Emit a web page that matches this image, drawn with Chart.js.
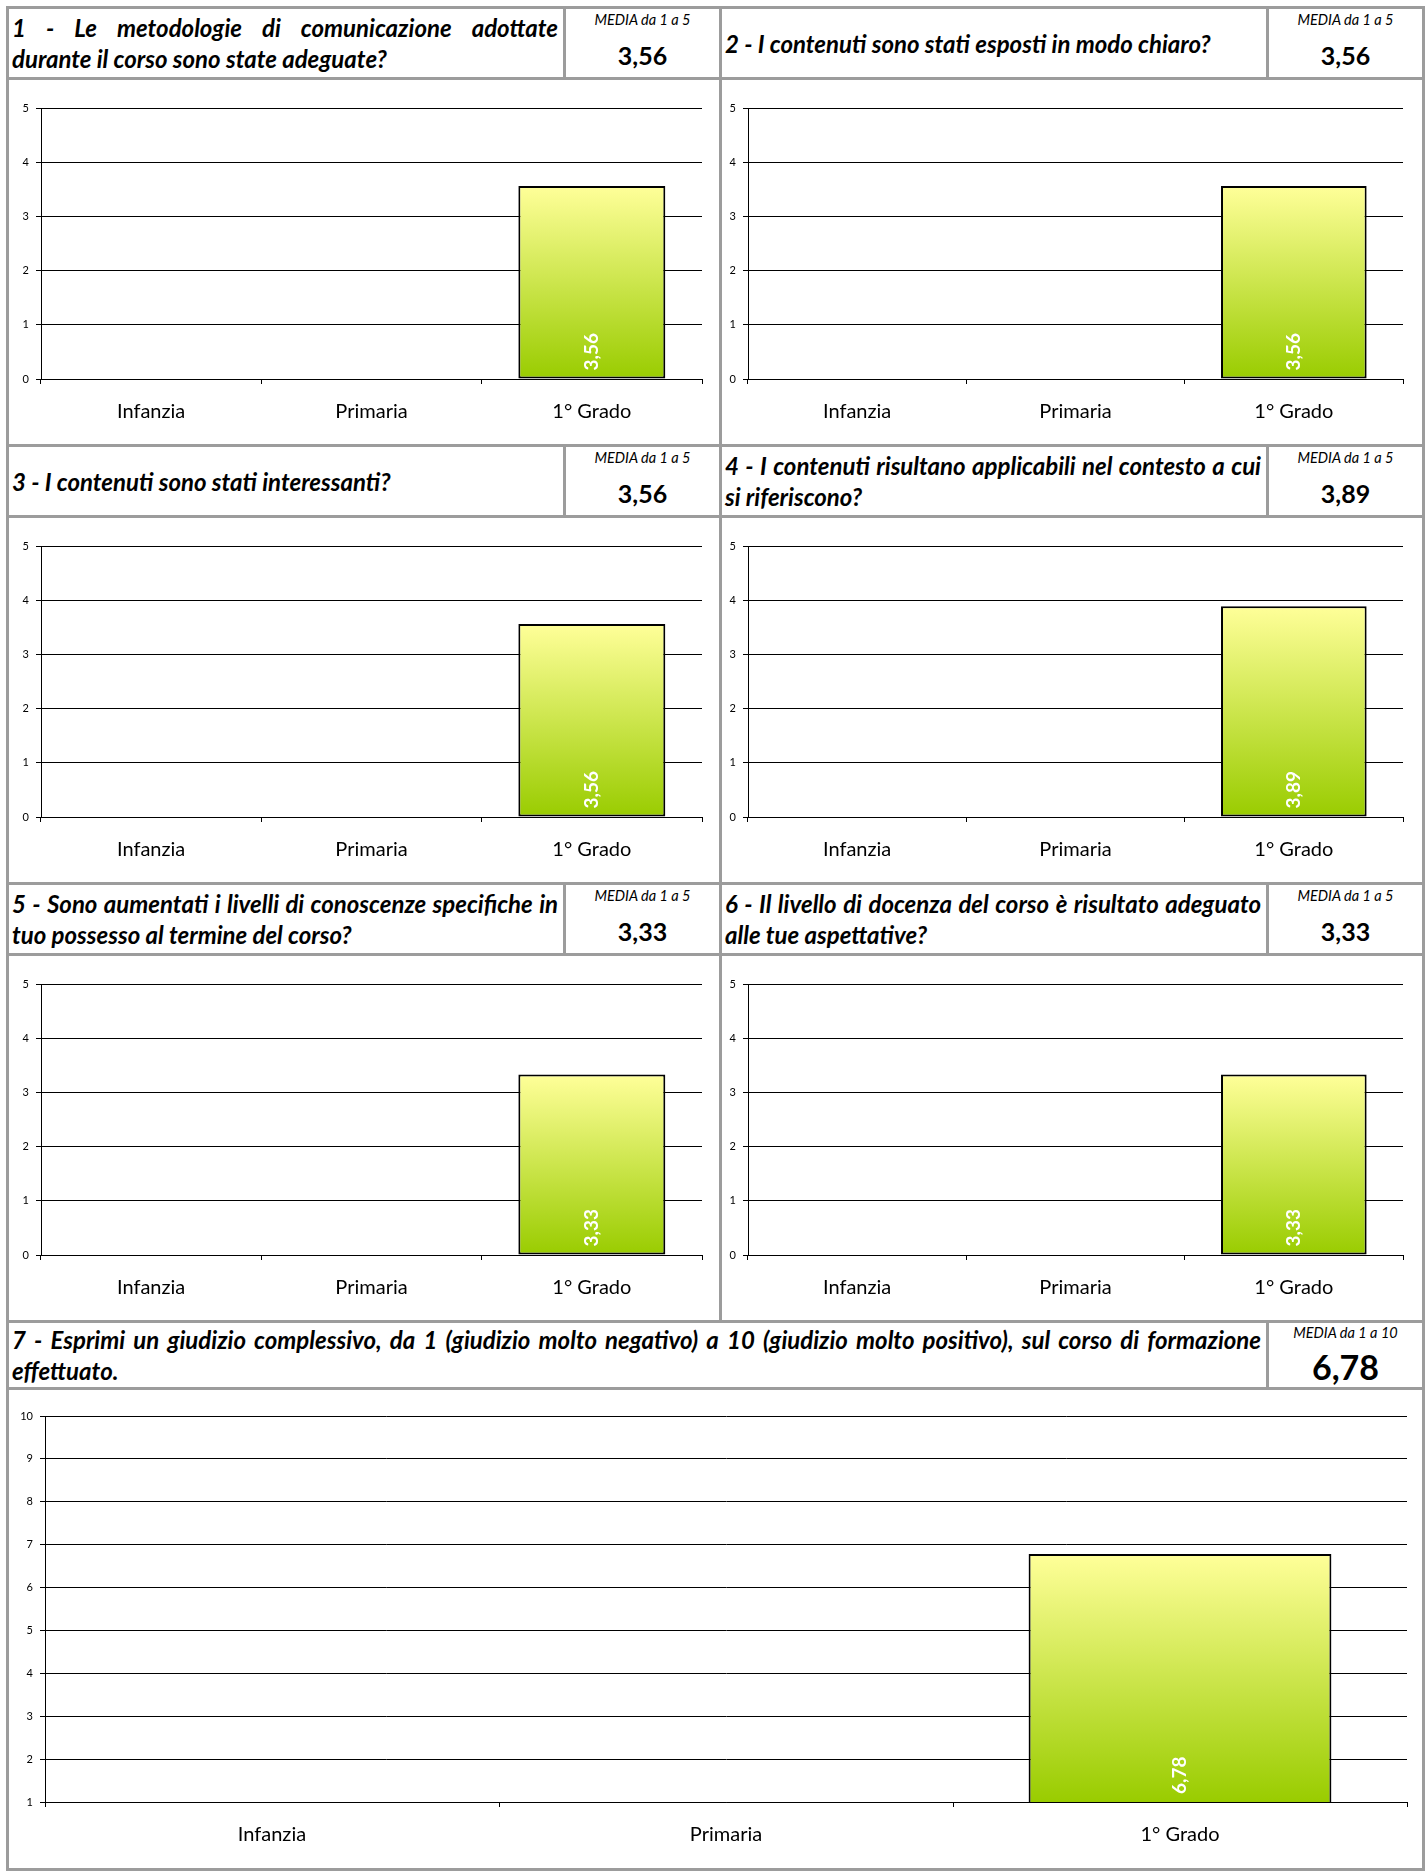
<!DOCTYPE html>
<html lang="it">
<head>
  <meta charset="utf-8">
  <title>Questionario di gradimento - medie</title>
  <script src="https://cdn.jsdelivr.net/npm/chart.js@4/dist/chart.umd.min.js"></script>
  <style>
    body { margin:0; background:#fff; font-family:Lato, "Open Sans", sans-serif; color:#000; width:1426px; height:1871px; position:relative; overflow:hidden; }
    .frame { position:absolute; left:6px; top:6px; width:1419px; height:1865px; background:#9c9c9c; }
    .cell { position:absolute; background:#fff; box-sizing:border-box; }
    .q { display:flex; flex-direction:column; justify-content:center; padding:0 5px 0 3px; font-weight:700; font-style:italic; font-size:24px; line-height:31px; }
    .q .j { text-align:justify; text-align-last:justify; }
    .m .lab { position:absolute; left:0; right:0; text-align:center; font-style:italic; font-size:14.5px; line-height:16px; }
    .m .val { position:absolute; left:0; right:0; text-align:center; font-weight:700; }
    canvas { position:absolute; left:0; top:0; }
  </style>
</head>
<body>
  <div class="frame"></div>

  <script>
    // data
    const categories = ['Infanzia', 'Primaria', '1° Grado'];
    const titles = [
      ['1 - Le metodologie di comunicazione adottate', 'durante il corso sono state adeguate?'],
      ['2 - I contenuti sono stati esposti in modo chiaro?'],
      ['3 - I contenuti sono stati interessanti?'],
      ['4 - I contenuti risultano applicabili nel contesto a cui', 'si riferiscono?'],
      ['5 - Sono aumentati i livelli di conoscenze specifiche in', 'tuo possesso al termine del corso?'],
      ['6 - Il livello di docenza del corso è risultato adeguato', 'alle tue aspettative?'],
      ['7 - Esprimi un giudizio complessivo, da 1 (giudizio molto negativo) a 10 (giudizio molto positivo), sul corso di formazione', 'effettuato.']
    ];
    const mediaLabels = ['MEDIA da 1 a 5', 'MEDIA da 1 a 5', 'MEDIA da 1 a 5', 'MEDIA da 1 a 5', 'MEDIA da 1 a 5', 'MEDIA da 1 a 5', 'MEDIA da 1 a 10'];
    const q1 = [null, null, 3.56];
    const q2 = [null, null, 3.56];
    const q3 = [null, null, 3.56];
    const q4 = [null, null, 3.89];
    const q5 = [null, null, 3.33];
    const q6 = [null, null, 3.33];
    const q7 = [null, null, 6.78];
    const series = [q1, q2, q3, q4, q5, q6, q7];
    const axisMin = [0, 0, 0, 0, 0, 0, 1];
    const axisMax = [5, 5, 5, 5, 5, 5, 10];

    const fmt = v => v.toFixed(2).replace('.', ',');
    const mean = arr => { const a = arr.filter(v => v != null); return a.reduce((s, v) => s + v, 0) / a.length; };

    // layout: centres of the grey rules
    const H = [7, 78, 445, 516, 883, 954, 1321, 1388, 1869];
    const cols = [
      { qx: [9, 563], mx: [566, 719], cx: [9, 719], padL: 32, padR: 17 },
      { qx: [722, 1266], mx: [1269, 1422], cx: [722, 1422], padL: 26, padR: 19 }
    ];
    const wide = { qx: [9, 1266], mx: [1269, 1422], cx: [9, 1422], padL: 36, padR: 15 };

    function cell(cls, x1, y1, x2, y2) {
      const d = document.createElement('div');
      d.className = 'cell ' + cls;
      d.style.left = x1 + 'px'; d.style.top = y1 + 'px';
      d.style.width = (x2 - x1) + 'px'; d.style.height = (y2 - y1) + 'px';
      document.body.appendChild(d);
      return d;
    }

    const valueLabels = {
      id: 'valueLabels',
      afterDatasetsDraw(chart) {
        const ctx = chart.ctx;
        const data = chart.data.datasets[0].data;
        const floor = chart.scales.y.getBasePixel();
        chart.getDatasetMeta(0).data.forEach((bar, j) => {
          if (data[j] == null) return;
          ctx.save();
          ctx.translate(bar.x, Math.min(bar.base, floor) - 8);
          ctx.rotate(-Math.PI / 2);
          ctx.font = 'bold 19px Lato';
          ctx.fillStyle = '#fff';
          ctx.textAlign = 'left';
          ctx.textBaseline = 'middle';
          ctx.fillText(fmt(data[j]), 0, 0);
          ctx.restore();
        });
      }
    };

    function barFill(c) {
      const ch = c.chart;
      if (!ch.chartArea || c.raw == null) return '#cce066';
      const y = ch.scales.y;
      const g = ch.ctx.createLinearGradient(0, y.getPixelForValue(c.raw), 0, y.getBasePixel());
      g.addColorStop(0, '#ffff99');
      g.addColorStop(1, '#99cc00');
      return g;
    }

    series.forEach((vals, i) => {
      const big = i === 6;
      const col = big ? wide : cols[i % 2];
      const row = big ? 3 : Math.floor(i / 2);
      const hy = [H[2 * row] + 2, H[2 * row + 1] - 1];
      const cy = [H[2 * row + 1] + 2, H[2 * row + 2] - 1];

      // question header
      const q = cell('q', col.qx[0], hy[0], col.qx[1], hy[1]);
      titles[i].forEach((t, k) => {
        const line = document.createElement('div');
        if (k < titles[i].length - 1) line.className = 'j';
        line.textContent = t;
        q.appendChild(line);
      });

      // media box
      const m = cell('m', col.mx[0], hy[0], col.mx[1], hy[1]);
      const lab = document.createElement('div');
      lab.className = 'lab'; lab.textContent = mediaLabels[i];
      lab.style.top = (big ? 2 : 3) + 'px';
      const val = document.createElement('div');
      val.className = 'val'; val.textContent = fmt(mean(vals));
      val.style.fontSize = big ? '34px' : '25px';
      val.style.lineHeight = big ? '40px' : '28px';
      val.style.top = (big ? 24 : 32) + 'px';
      m.appendChild(lab); m.appendChild(val);

      // chart
      const c = cell('c', col.cx[0], cy[0], col.cx[1], cy[1]);
      const cv = document.createElement('canvas');
      cv.width = col.cx[1] - col.cx[0];
      cv.height = cy[1] - cy[0];
      c.appendChild(cv);
      const xh = big ? 66 : 65;

      new Chart(cv, {
        type: 'bar',
        data: {
          labels: categories,
          datasets: [{
            data: vals,
            backgroundColor: barFill,
            borderColor: '#000',
            borderWidth: 2,
            borderSkipped: false,
            barPercentage: 0.667,
            categoryPercentage: 1
          }]
        },
        options: {
          responsive: false,
          animation: false,
          events: [],
          layout: { padding: { top: big ? 26 : 28, right: col.padR, bottom: 0, left: 0 } },
          plugins: { legend: { display: false }, tooltip: { enabled: false } },
          scales: {
            x: {
              grid: { offset: true, drawOnChartArea: false, color: '#000', tickLength: 5 },
              border: { color: '#000' },
              ticks: { color: '#000', font: { family: 'Lato', size: 20 }, padding: 16 },
              afterFit: s => { s.height = xh; }
            },
            y: {
              min: axisMin[i],
              max: axisMax[i],
              ticks: { stepSize: 1, color: '#000', font: { family: 'Lato', size: 11 }, padding: 7 },
              grid: { color: '#000', tickLength: 5 },
              border: { color: '#000' },
              afterFit: s => { s.width = col.padL; }
            }
          }
        },
        plugins: [valueLabels]
      });
    });
  </script>
</body>
</html>
